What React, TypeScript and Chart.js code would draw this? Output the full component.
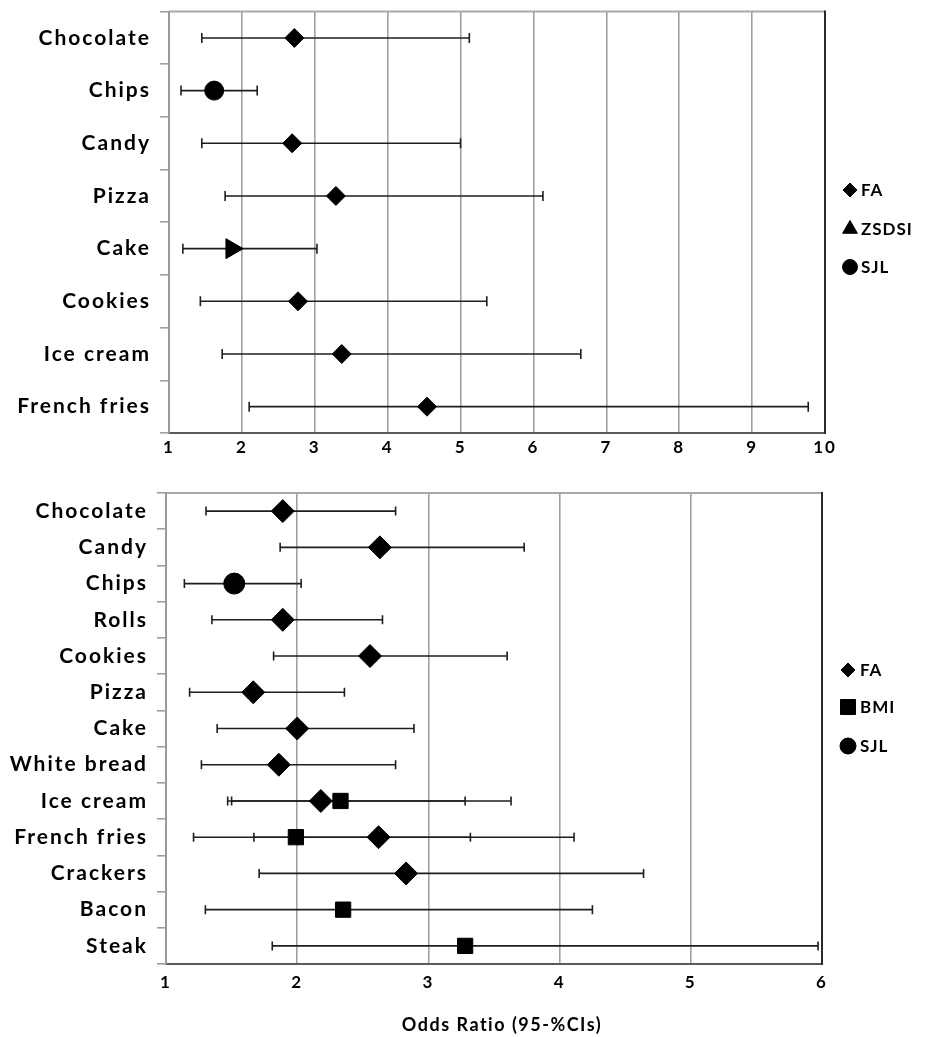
import React, { useEffect, useRef } from 'react';
import { Chart, registerables } from 'chart.js';
import { drawPoint } from 'chart.js/helpers';

Chart.register(...registerables);
Chart.defaults.font.family = 'Lato';

// ---------- Top panel data ----------
const topCategories = ['Chocolate', 'Chips', 'Candy', 'Pizza', 'Cake', 'Cookies', 'Ice cream', 'French fries'];
const topFACats = ['Chocolate', 'Candy', 'Pizza', 'Cookies', 'Ice cream', 'French fries'];
const topFAOR = [2.72, 2.69, 3.29, 2.77, 3.37, 4.54];
const topFALow = [1.45, 1.45, 1.77, 1.43, 1.73, 2.1];
const topFAHigh = [5.12, 5.0, 6.13, 5.36, 6.65, 9.77];
const topZSDSICats = ['Cake'];
const topZSDSIOR = [1.86];
const topZSDSILow = [1.19];
const topZSDSIHigh = [3.03];
const topSJLCats = ['Chips'];
const topSJLOR = [1.62];
const topSJLLow = [1.165];
const topSJLHigh = [2.21];
const topXMin = 1;
const topXMax = 10;
const topLegendLabels = ['FA', 'ZSDSI', 'SJL'];

// ---------- Bottom panel data ----------
const bottomCategories = ['Chocolate', 'Candy', 'Chips', 'Rolls', 'Cookies', 'Pizza', 'Cake', 'White bread', 'Ice cream', 'French fries', 'Crackers', 'Bacon', 'Steak'];
const bottomFACats = ['Chocolate', 'Candy', 'Rolls', 'Cookies', 'Pizza', 'Cake', 'White bread', 'Ice cream', 'French fries', 'Crackers'];
const bottomFAOR = [1.89, 2.63, 1.89, 2.555, 1.665, 2.0, 1.86, 2.18, 2.62, 2.83];
const bottomFALow = [1.305, 1.87, 1.35, 1.82, 1.18, 1.39, 1.27, 1.47, 1.67, 1.71];
const bottomFAHigh = [2.75, 3.73, 2.65, 3.6, 2.36, 2.89, 2.75, 3.28, 4.11, 4.64];
const bottomBMICats = ['Ice cream', 'French fries', 'Bacon', 'Steak'];
const bottomBMIOR = [2.33, 1.99, 2.35, 3.28];
const bottomBMILow = [1.5, 1.21, 1.3, 1.81];
const bottomBMIHigh = [3.63, 3.32, 4.25, 5.97];
const bottomSJLCats = ['Chips'];
const bottomSJLOR = [1.52];
const bottomSJLLow = [1.14];
const bottomSJLHigh = [2.03];
const bottomXMin = 1;
const bottomXMax = 6;
const bottomLegendLabels = ['FA', 'BMI', 'SJL'];
const xAxisTitle = 'Odds Ratio (95-%CIs)';

function series(label: string, cats: string[], or: number[], low: number[], high: number[], style: string, radius: number, rotation = 0) {
  return {
    label,
    data: cats.map((c, i) => ({ x: or[i], y: c })),
    lows: low,
    highs: high,
    pointStyle: style,
    pointRadius: radius,
    pointHoverRadius: radius,
    pointRotation: rotation,
    backgroundColor: '#000',
    borderColor: '#000',
    pointBackgroundColor: '#000',
    pointBorderColor: '#000',
    pointBorderWidth: 1,
    showLine: false,
  };
}

const spacingPlugin = {
  id: 'spacing',
  beforeDraw(chart: any, _a: any, opts: any) {
    (chart.ctx as any).letterSpacing = opts.value || '0px';
  },
};

const errorBars = {
  id: 'errorBars',
  beforeDatasetsDraw(chart: any, _a: any, opts: any) {
    const ctx = chart.ctx;
    const xs = chart.scales.x;
    ctx.save();
    ctx.strokeStyle = opts.color;
    ctx.lineWidth = opts.lineWidth;
    chart.data.datasets.forEach((ds: any, di: number) => {
      const meta = chart.getDatasetMeta(di);
      meta.data.forEach((pt: any, i: number) => {
        const y = pt.y;
        const x1 = xs.getPixelForValue(ds.lows[i]);
        const x2 = xs.getPixelForValue(ds.highs[i]);
        const c = opts.cap;
        ctx.beginPath();
        ctx.moveTo(x1, y);
        ctx.lineTo(x2, y);
        ctx.moveTo(x1, y - c);
        ctx.lineTo(x1, y + c);
        ctx.moveTo(x2, y - c);
        ctx.lineTo(x2, y + c);
        ctx.stroke();
      });
    });
    ctx.restore();
  },
};

const framePlugin = {
  id: 'frame',
  afterDraw(chart: any, _a: any, opts: any) {
    const ctx = chart.ctx;
    const { left, right, top, bottom } = chart.chartArea;
    ctx.save();
    ctx.lineWidth = 2;
    ctx.strokeStyle = opts.topColor;
    ctx.beginPath();
    ctx.moveTo(left, top);
    ctx.lineTo(right, top);
    ctx.stroke();
    ctx.strokeStyle = opts.rightColor;
    ctx.beginPath();
    ctx.moveTo(right, top - 1);
    ctx.lineTo(right, bottom + 1);
    ctx.stroke();
    if (opts.title) {
      (ctx as any).letterSpacing = opts.title.spacing;
      ctx.fillStyle = '#000';
      ctx.font = `bold ${opts.title.size}px Lato`;
      ctx.textAlign = 'center';
      ctx.textBaseline = 'middle';
      ctx.fillText(opts.title.text, opts.title.x, opts.title.y);
    }
    ctx.restore();
  },
};

const sideLegend = {
  id: 'sideLegend',
  afterDraw(chart: any, _a: any, opts: any) {
    const ctx = chart.ctx;
    ctx.save();
    (ctx as any).letterSpacing = opts.spacing;
    opts.labels.forEach((label: string, i: number) => {
      const y = opts.ys[i];
      ctx.fillStyle = '#000';
      ctx.strokeStyle = '#000';
      ctx.lineWidth = 1;
      drawPoint(ctx, { pointStyle: opts.styles[i], rotation: 0, radius: opts.radii[i], borderWidth: 1 } as any, opts.markerX, y);
      ctx.fillStyle = '#000';
      ctx.font = `bold ${opts.fontSize}px Lato`;
      ctx.textAlign = 'left';
      ctx.textBaseline = 'middle';
      ctx.fillText(label, opts.textX, y + 1);
    });
    ctx.restore();
  },
};

function makeConfig(p: any) {
  return {
    type: 'scatter',
    data: { datasets: p.datasets },
    options: {
      animation: false,
      responsive: false,
      events: [],
      layout: { padding: p.padding },
      plugins: {
        legend: { display: false },
        tooltip: { enabled: false },
        spacing: { value: '2px' },
        errorBars: { color: '#1e1e1e', lineWidth: 1.6, cap: p.cap },
        frame: { topColor: '#a8a8a8', rightColor: '#2a2a2a', title: p.title },
        sideLegend: p.legend,
      },
      scales: {
        x: {
          type: 'linear',
          min: p.xMin,
          max: p.xMax,
          ticks: { stepSize: 1, padding: p.xTickPad, color: '#000', font: { size: 17, weight: 'bold' } },
          grid: { color: '#a0a0a0', lineWidth: 1.6, drawTicks: false },
          border: { color: '#5a5a5a', width: 2 },
          afterFit: (s: any) => {
            s.height = p.xHeight;
          },
        },
        y: {
          type: 'category',
          labels: p.categories,
          offset: true,
          grid: { offset: true, drawOnChartArea: false, drawTicks: true, tickLength: 9, color: '#a0a0a0', lineWidth: 1.6 },
          border: { color: '#9a9a9a', width: 2 },
          ticks: { padding: 9, color: '#000', autoSkip: false, font: { size: 21, weight: 'bold' } },
          afterFit: (s: any) => {
            s.width = p.yWidth;
          },
        },
      },
    },
    plugins: [spacingPlugin, errorBars, framePlugin, sideLegend],
  };
}

function ForestChart({ config, width, height, top }: any) {
  const ref = useRef<HTMLCanvasElement>(null);
  useEffect(() => {
    const chart = new Chart(ref.current as HTMLCanvasElement, config);
    return () => chart.destroy();
  }, []);
  return (
    <canvas
      ref={ref}
      width={width}
      height={height}
      style={{ position: 'absolute', left: 0, top, width, height, display: 'block' }}
    />
  );
}

const topConfig = makeConfig({
  categories: topCategories,
  datasets: [
    series('FA', topFACats, topFAOR, topFALow, topFAHigh, 'rectRot', 9.5),
    series('ZSDSI', topZSDSICats, topZSDSIOR, topZSDSILow, topZSDSIHigh, 'triangle', 11.5, 90),
    series('SJL', topSJLCats, topSJLOR, topSJLLow, topSJLHigh, 'circle', 9.5),
  ],
  padding: { top: 20, right: 105, left: 0, bottom: 0 },
  xMin: topXMin,
  xMax: topXMax,
  xTickPad: 4,
  xHeight: 37,
  yWidth: 169,
  cap: 5,
  legend: {
    labels: topLegendLabels,
    styles: ['rectRot', 'triangle', 'circle'],
    radii: [7, 8.5, 7.5],
    ys: [200, 239, 277],
    markerX: 850,
    textX: 861,
    fontSize: 17,
    spacing: '1px',
  },
});

const bottomConfig = makeConfig({
  categories: bottomCategories,
  datasets: [
    series('FA', bottomFACats, bottomFAOR, bottomFALow, bottomFAHigh, 'rectRot', 11.5),
    series('BMI', bottomBMICats, bottomBMIOR, bottomBMILow, bottomBMIHigh, 'rect', 10.8),
    series('SJL', bottomSJLCats, bottomSJLOR, bottomSJLLow, bottomSJLHigh, 'circle', 10.5),
  ],
  padding: { top: 23, right: 108, left: 0, bottom: 0 },
  xMin: bottomXMin,
  xMax: bottomXMax,
  xTickPad: 8,
  xHeight: 73,
  yWidth: 166,
  cap: 4.5,
  title: { text: xAxisTitle, x: 502, y: 555, size: 18, spacing: '1.5px' },
  legend: {
    labels: bottomLegendLabels,
    styles: ['rectRot', 'rect', 'circle'],
    radii: [7, 10.6, 8],
    ys: [200, 237, 276],
    markerX: 848,
    textX: 860,
    fontSize: 17,
    spacing: '1px',
  },
});

export default function App() {
  return (
    <div style={{ position: 'fixed', left: 0, top: 0, width: 930, height: 1037, background: '#fff', overflow: 'hidden' }}>
      <ForestChart config={topConfig} width={930} height={480} top={-10} />
      <ForestChart config={bottomConfig} width={930} height={567} top={470} />
    </div>
  );
}
